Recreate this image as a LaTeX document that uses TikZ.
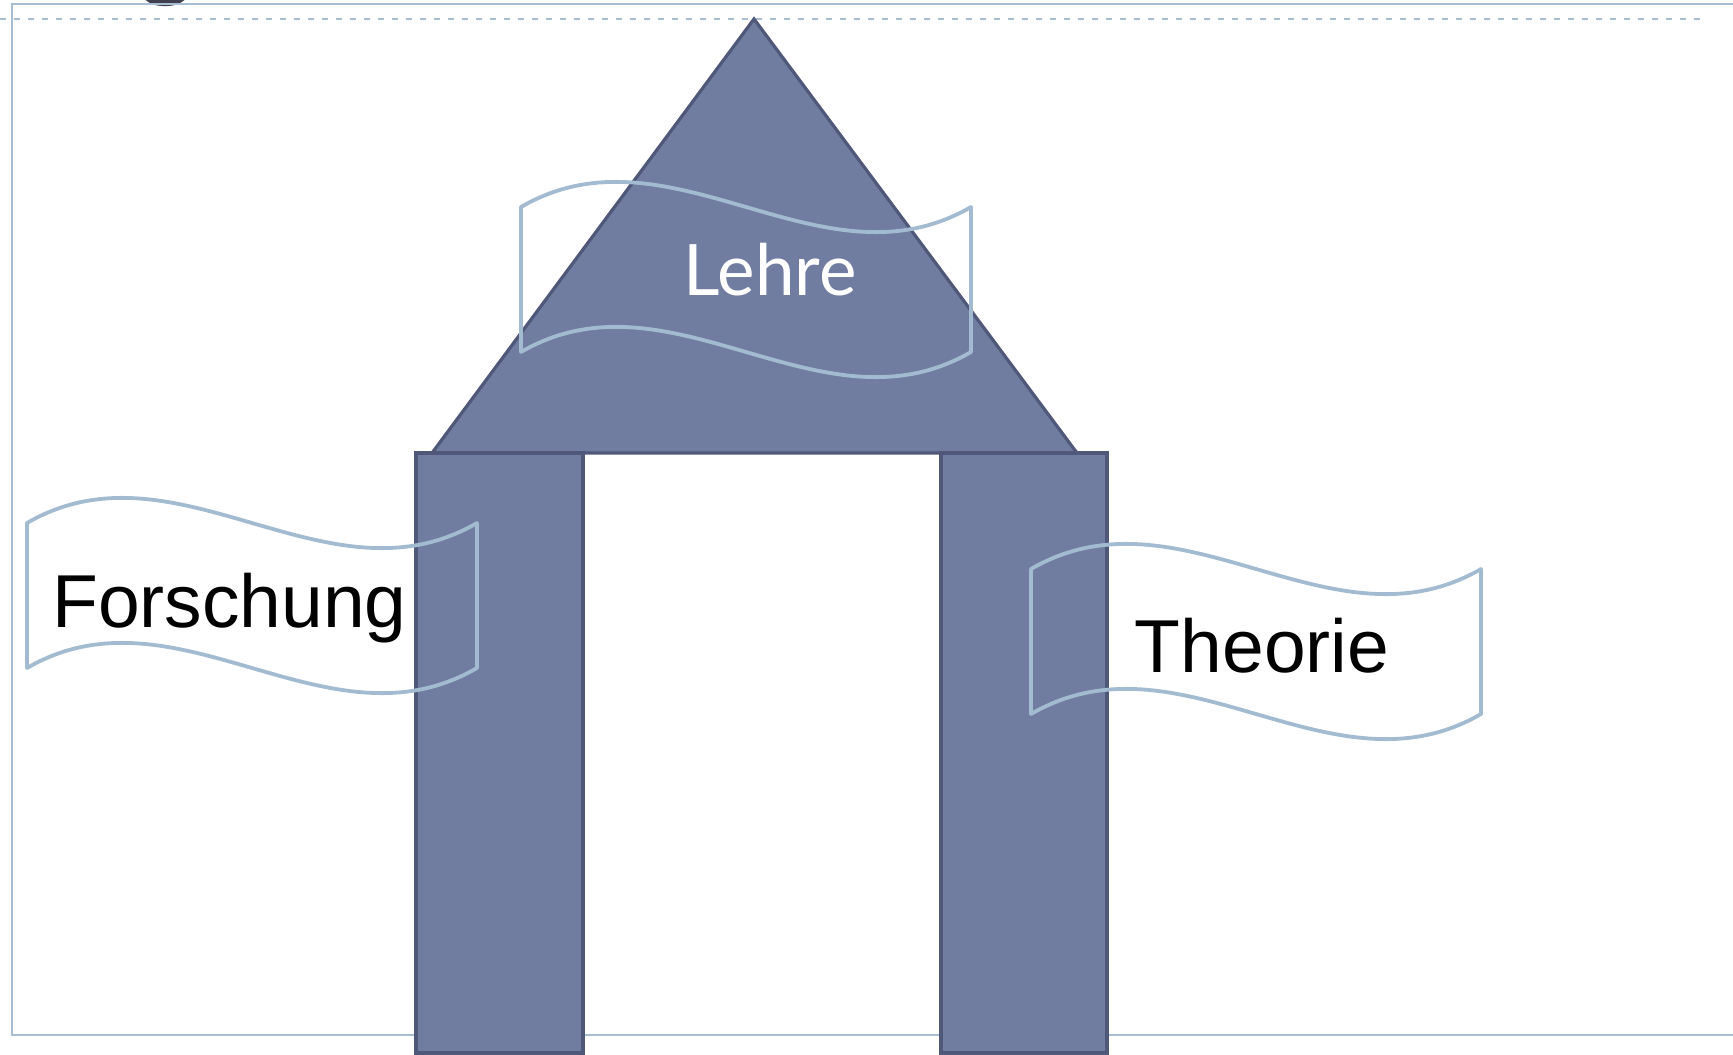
\documentclass[tikz,border=0pt]{standalone}
\usepackage{fontspec}
\setmainfont{Liberation Sans}
\newfontfamily\lehrefont{Lato}
\definecolor{pfill}{HTML}{717CA1}
\definecolor{pline}{HTML}{4F5878}
\definecolor{bline}{HTML}{A2BBD0}
\definecolor{frameline}{HTML}{A8BED2}
\definecolor{titlegray}{HTML}{3F3F4F}
\tikzset{
  block/.style={fill=pfill, draw=pline, line width=3.2pt, line join=miter},
  bannerline/.style={draw=bline, line width=3.8pt, line join=round},
  banner/.pic={\path[bannerline] (0,0) .. controls (150,-87) and (300,87) .. (450,0) -- (450,145) .. controls (300,232) and (150,58) .. (0,145) -- cycle;},
  bigtext/.style={inner sep=0pt, anchor=base, font=\fontsize{75}{90}\selectfont}
}
\begin{document}
\begin{tikzpicture}[x=1pt,y=-1pt]
\useasboundingbox (0,0) rectangle (1733,1055);
% cut-off title glyph
\node[inner sep=0pt, anchor=base, text=titlegray, font=\lehrefont\fontsize{105}{110}\selectfont] (title) at (167,-13) {g};
% frame
\draw[frameline, line width=2.5pt] (1760,4) -- (12,4) -- (12,1035) -- (1760,1035);
\draw[frameline, line width=2pt, dash pattern=on 6pt off 8pt] (0,19.3) -- (1702,19.3);
% roof
\path[block] (754,19) -- (1077,453) -- (432,453) -- cycle;
% pillars
\path[block] (416,453) rectangle (583,1053);
\path[block] (941,453) rectangle (1107,1053);
% banners
\pic at (521,207) {banner};
\pic at (27,523) {banner};
\pic at (1031,569) {banner};
% texts
\node[inner sep=0pt, anchor=base, text=white, font=\lehrefont\fontsize{71}{84}\selectfont] (lehre) at (770,295) {Lehre};
\node[bigtext] (forschung) at (229.5,627) {Forschung};
\node[bigtext] (theorie) at (1262,672) {Theorie};
\end{tikzpicture}
\end{document}
